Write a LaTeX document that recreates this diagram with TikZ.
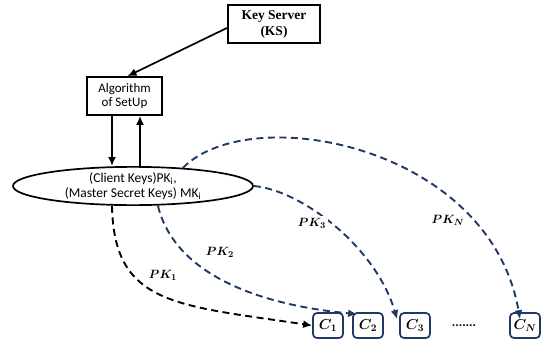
\documentclass[tikz,border=0pt]{standalone}
\usepackage{fontspec}
\setmainfont{Carlito}
\newfontfamily\ksfont{Liberation Serif}
\usepackage{bm}
\usetikzlibrary{arrows.meta,shapes.geometric,calc}
\definecolor{navy}{RGB}{31,56,100}
\tikzset{
  plainbox/.style={draw=black, rectangle, align=center, inner sep=0pt},
  clientbox/.style={draw=navy, line width=1.7pt, rounded corners=4pt,
    minimum width=30pt, minimum height=25pt, inner sep=0pt, font=\fontsize{14}{16}\selectfont},
  solidarrow/.style={line width=1.7pt, -{Latex[length=9pt,width=8pt]}},
  keyarrow/.style={line width=1.9pt, dash pattern=on 7pt off 4.5pt, -{Latex[length=9pt,width=8pt]}},
  pklabel/.style={fill=white, inner sep=2pt, font=\fontsize{12.5}{14}\selectfont}
}
\begin{document}
\begin{tikzpicture}[x=1pt, y=-1pt]
  \useasboundingbox (0,0) rectangle (542,343);

  % key server and setup algorithm
  \node[plainbox, line width=2.2pt, minimum width=92pt, minimum height=38pt,
        font=\ksfont\bfseries\fontsize{13.5}{16}\selectfont] (ks) at (274,24) {Key Server\\(KS)};
  \node[plainbox, line width=1.7pt, minimum width=75pt, minimum height=38pt,
        font=\fontsize{13}{13.5}\selectfont] (alg) at (124.5,96) {Algorithm\\of SetUp};

  % key store
  \node[draw, ellipse, line width=1.7pt, minimum width=240pt, minimum height=36pt,
        inner sep=0pt, align=center, font=\fontsize{13.5}{15}\selectfont] (ell) at (133,186)
        {(Client Keys)PK\textsubscript{i},\\(Master Secret Keys) MK\textsubscript{i}};

  % clients
  \node[clientbox] (c1) at (328,325.5) {$\bm{C_1}$};
  \node[clientbox] (c2) at (368,325.5) {$\bm{C_2}$};
  \node[clientbox] (c3) at (415,325.5) {$\bm{C_3}$};
  \node[font=\bfseries\fontsize{13}{14}\selectfont] (dots) at (464,326) {.......};
  \node[clientbox] (cN) at (525,325.5) {$\bm{C_N}$};

  % setup exchange
  \draw[solidarrow] ($(ks.west)+(0,4)$) -- ($(alg.north)+(3,0)$);
  \draw[solidarrow] ([xshift=-12.5pt]alg.south) -- ([xshift=-21pt]ell.north);
  \draw[solidarrow] ([xshift=7pt]ell.north) -- ([xshift=15.5pt]alg.south);

  % key distribution
  \draw[keyarrow, black] ([xshift=-21pt]ell.south)
     .. controls (114,305) and (175,305) .. (c1.west);
  \draw[keyarrow, navy] ([xshift=25pt]ell.south)
     .. controls (175,275) and (260,305) .. ($(c2.north west)+(5,2)$);
  \draw[keyarrow, navy] (ell.east)
     .. controls (300,190) and (375,245) .. ($(c3.north west)+(-2,7)$);
  \draw[keyarrow, navy] (ell.20)
     .. controls (250,100) and (490,145) .. ($(cN.north)+(-5,7)$);

  \node[pklabel] (pk1) at (163,275) {$\bm{PK_1}$};
  \node[pklabel] (pk2) at (220,252) {$\bm{PK_2}$};
  \node[pklabel] (pk3) at (312,223) {$\bm{PK_3}$};
  \node[pklabel] (pkN) at (448,220) {$\bm{PK_N}$};
\end{tikzpicture}
\end{document}
